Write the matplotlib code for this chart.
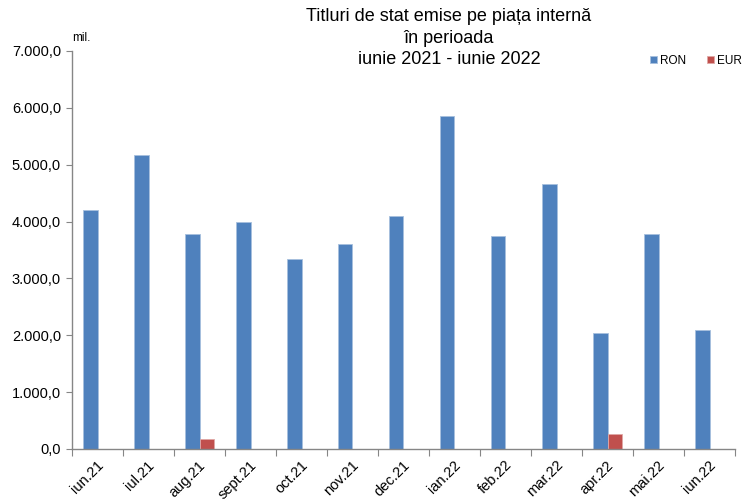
import matplotlib
matplotlib.use("Agg")
import matplotlib.pyplot as plt
import matplotlib.transforms as mtransforms
import numpy as np
from matplotlib.ticker import FuncFormatter

plt.rcParams['font.family'] = ['Liberation Sans', 'DejaVu Sans']

categories = ["iun.21", "iul.21", "aug.21", "sept.21", "oct.21", "nov.21", "dec.21",
              "ian.22", "feb.22", "mar.22", "apr.22", "mai.22", "iun.22"]
ron = [4195, 5170, 3790, 3990, 3340, 3600, 4095, 5860, 3745, 4655, 2040, 3790, 2100]
eur = [0, 0, 175, 0, 0, 0, 0, 0, 0, 0, 262, 0, 0]
title = "Titluri de stat emise pe piața internă\nîn perioada\niunie 2021 - iunie 2022"

fig = plt.figure(figsize=(7.47, 5.01), dpi=100)
ax = fig.add_axes([72/747, 1 - 449/501, (735-72)/747, (449-51)/501])

x = np.arange(len(categories))
w = 1/3.5
ax.bar(x - w/2, ron, width=w, color="#4f81bd", edgecolor="#a7c0de", linewidth=0.6, label="RON")
ax.bar(x + w/2, eur, width=w, color="#c0504d", edgecolor="#e0a8a6", linewidth=0.6, label="EUR")

ax.set_xlim(-0.5, len(categories) - 0.5)
ax.set_ylim(0, 7000)
ax.set_yticks(np.arange(0, 7001, 1000))

def fmt(v, pos):
    s = f"{v:,.1f}"
    return s.replace(",", "X").replace(".", ",").replace("X", ".")
ax.yaxis.set_major_formatter(FuncFormatter(fmt))

ax.set_xticks(np.arange(-0.5, len(categories), 1.0), minor=False)
ax.set_xticklabels([])
ax.set_xticks(x, minor=True)
ax.set_xticklabels(categories, minor=True, rotation=45, ha="right", va="center",
                   rotation_mode="anchor", fontsize=10.5)
ax.tick_params(axis="x", which="minor", length=0, pad=10)
ax.tick_params(axis="x", which="major", length=5, color="#868686", direction="out")
ax.tick_params(axis="y", length=4, color="#868686", direction="out", labelsize=10.5, pad=4)

offset = mtransforms.ScaledTranslation(4/100, 0, fig.dpi_scale_trans)
for lab in ax.xaxis.get_minorticklabels():
    lab.set_transform(lab.get_transform() + offset)

for s in ["top", "right"]:
    ax.spines[s].set_visible(False)
for s in ["left", "bottom"]:
    ax.spines[s].set_color("#868686")
    ax.spines[s].set_linewidth(1.0)

fig.text(449/747, 1 - 8/501, title, ha="center", va="top", fontsize=13, linespacing=1.36)
fig.text(72/747, 1 - 38/501, "mil.", ha="left", va="center", fontsize=8.5)

leg = ax.legend(loc="upper right", bbox_to_anchor=(752/747, 1 - 44/501),
                bbox_transform=fig.transFigure, ncol=2, frameon=False,
                fontsize=8.5, handlelength=0.6, handleheight=0.6, handletextpad=0.2,
                columnspacing=1.8)

fig.savefig("out.png", dpi=100)
